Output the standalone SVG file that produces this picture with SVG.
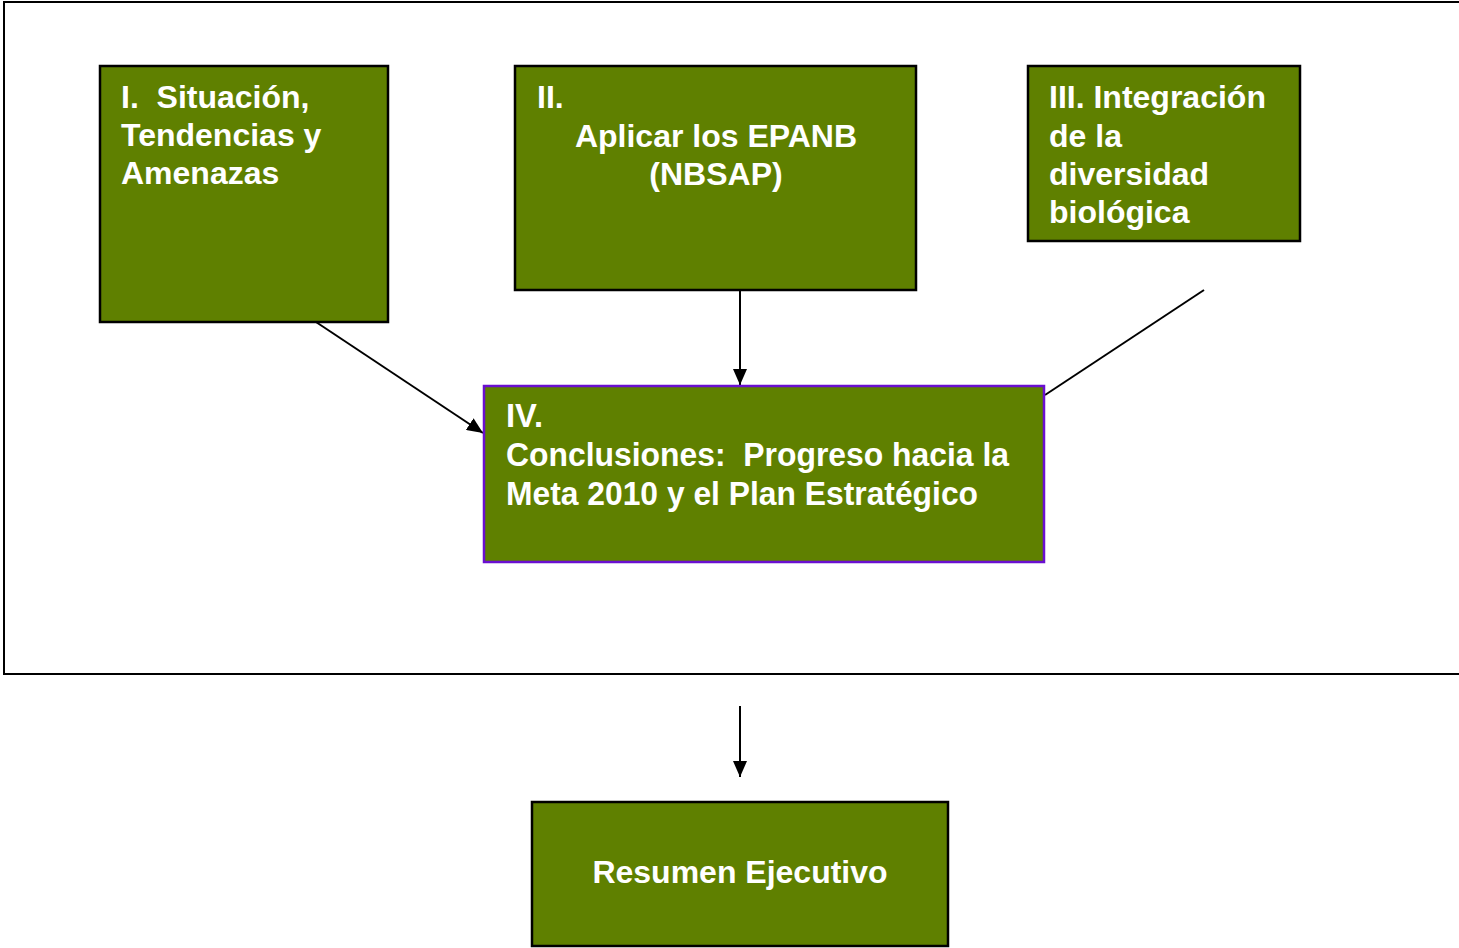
<svg xmlns="http://www.w3.org/2000/svg" width="1459" height="948" viewBox="0 0 1459 948">
<style>
.box{fill:#5f8000;stroke:#000;stroke-width:2.5}
.boxp{fill:#5f8000;stroke:#6a0fd0;stroke-width:2.5}
.t{font-family:"Liberation Sans",Arial,sans-serif;font-weight:bold;font-size:32px;fill:#fff;white-space:pre}
.n{font-family:"Liberation Sans Narrow","Arial Narrow","Liberation Sans",sans-serif;font-weight:bold;font-size:33px;fill:#fff;white-space:pre}
.c{fill:none;stroke:#000;stroke-width:2}
</style>
<defs>
<marker id="ah2" viewBox="0 0 16 14" refX="16" refY="7" markerWidth="16" markerHeight="14" orient="auto" markerUnits="userSpaceOnUse">
<path d="M0,0 L16,7 L0,14 Z" fill="#000"/>
</marker>
</defs>
<rect id="frame" x="4" y="2" width="1460" height="672" fill="#fff" stroke="#000" stroke-width="2"/>
<g id="connectors">
<line class="c" x1="316" y1="322" x2="483" y2="433" marker-end="url(#ah2)"/>
<line class="c" x1="740" y1="290" x2="740" y2="385" marker-end="url(#ah2)"/>
<line class="c" x1="1204" y1="290" x2="1045" y2="395"/>
<line class="c" x1="740" y1="706" x2="740" y2="777" marker-end="url(#ah2)"/>
</g>
<g id="node1">
<rect class="box" x="100" y="66" width="288" height="256"/>
<text class="t" x="121" y="108" xml:space="preserve">I.  Situación,</text>
<text class="t" x="121" y="146">Tendencias y</text>
<text class="t" x="121" y="184">Amenazas</text>
</g>
<g id="node2">
<rect class="box" x="515" y="66" width="401" height="224"/>
<text class="t" x="537" y="108">II.</text>
<text class="t" x="716" y="147" text-anchor="middle">Aplicar los EPANB</text>
<text class="t" x="716" y="185" text-anchor="middle">(NBSAP)</text>
</g>
<g id="node3">
<rect class="box" x="1028" y="66" width="272" height="175"/>
<text class="t" x="1049" y="108">III. Integración</text>
<text class="t" x="1049" y="147">de la</text>
<text class="t" x="1049" y="185">diversidad</text>
<text class="t" x="1049" y="223">biológica</text>
</g>
<g id="node4">
<rect class="boxp" x="484" y="386" width="560" height="176"/>
<text class="n" x="506" y="427" textLength="37" lengthAdjust="spacingAndGlyphs">IV.</text>
<text class="n" x="506" y="466" textLength="503" lengthAdjust="spacingAndGlyphs" xml:space="preserve">Conclusiones:  Progreso hacia la</text>
<text class="n" x="506" y="505" textLength="472" lengthAdjust="spacingAndGlyphs">Meta 2010 y el Plan Estratégico</text>
</g>
<g id="node5">
<rect class="box" x="532" y="802" width="416" height="144"/>
<text class="t" x="740" y="883" text-anchor="middle">Resumen Ejecutivo</text>
</g>
</svg>
